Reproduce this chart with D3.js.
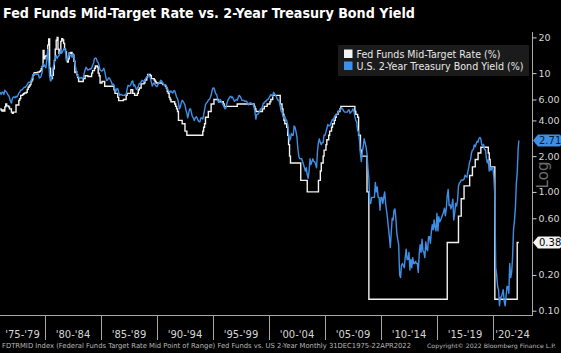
<!DOCTYPE html>
<html>
<head>
<meta charset="utf-8">
<script src="https://cdn.jsdelivr.net/npm/d3@7"></script>
<style>
  body { margin: 0; background: #000; }
  svg { display: block; font-family: "DejaVu Sans", "Liberation Sans", sans-serif; }
</style>
</head>
<body>
<div id="chart"></div>
<script>
// 2-year Treasury yield, monthly, Dec 1975 .. Apr 2022 (last is 22 Apr)
const twoYearYield = [
  6.9,
  6.6, 6.9, 6.9, 6.6, 7.2, 7.0, 6.9, 6.6, 6.5, 6.2, 5.8, 5.6,          // 1976
  6.1, 6.3, 6.3, 6.2, 6.4, 6.3, 6.5, 6.8, 6.9, 7.2, 7.2, 7.3,          // 1977
  7.5, 7.6, 7.6, 7.8, 8.0, 8.3, 8.4, 8.3, 8.6, 9.0, 9.6, 9.8,          // 1978
  9.9, 9.8, 9.8, 9.8, 9.8, 9.1, 9.2, 9.5, 10.2, 12.0, 11.8, 11.4,      // 1979
  11.1, 13.0, 15.8, 12.4, 9.4, 8.6, 8.8, 10.3, 11.4, 12.0, 13.3, 14.1, // 1980
  13.3, 13.8, 14.0, 14.9, 15.8, 14.7, 15.3, 16.0, 16.1, 15.5, 12.7, 13.0, // 1981
  14.0, 14.8, 14.0, 14.1, 13.6, 14.5, 13.9, 12.1, 11.1, 9.9, 9.4, 9.3, // 1982
  9.0, 9.1, 9.2, 9.0, 9.1, 9.9, 10.6, 11.2, 10.9, 10.6, 10.7, 10.9,    // 1983
  10.8, 11.0, 11.6, 12.1, 13.2, 13.4, 13.3, 12.5, 12.3, 11.6, 10.6, 10.5, // 1984
  10.4, 10.6, 11.0, 10.4, 9.4, 8.7, 8.7, 9.1, 9.1, 8.8, 8.5, 8.0,      // 1985
  8.1, 7.9, 7.3, 7.0, 7.4, 7.4, 6.9, 6.5, 6.6, 6.6, 6.5, 6.5,          // 1986
  6.5, 6.6, 6.6, 7.3, 7.9, 7.8, 7.8, 8.0, 8.5, 8.6, 7.8, 8.0,          // 1987
  7.6, 7.3, 7.5, 7.7, 8.2, 8.2, 8.4, 8.7, 8.6, 8.5, 8.7, 9.1,          // 1988
  9.2, 9.4, 9.7, 9.5, 9.0, 8.4, 7.8, 8.1, 8.3, 8.0, 7.8, 7.7,          // 1989
  8.0, 8.2, 8.4, 8.7, 8.6, 8.3, 8.0, 8.0, 8.0, 7.8, 7.5, 7.2,          // 1990
  7.0, 6.9, 7.1, 6.9, 6.8, 7.1, 7.1, 6.7, 6.3, 6.1, 5.7, 5.0,          // 1991
  5.2, 5.6, 5.9, 5.8, 5.6, 5.4, 4.9, 4.6, 4.2, 4.6, 5.0, 5.0,          // 1992
  4.6, 4.3, 4.2, 4.0, 4.2, 4.3, 4.2, 4.0, 3.9, 3.9, 4.2, 4.2,          // 1993
  4.1, 4.4, 4.9, 5.4, 5.6, 5.7, 5.9, 6.0, 6.2, 6.5, 7.1, 7.5,          // 1994
  7.5, 7.1, 6.7, 6.6, 6.1, 5.7, 5.8, 6.0, 5.8, 5.6, 5.4, 5.2,          // 1995
  5.0, 5.1, 5.6, 5.9, 6.1, 6.3, 6.4, 6.2, 6.3, 6.0, 5.8, 5.9,          // 1996
  6.0, 5.9, 6.2, 6.5, 6.4, 6.2, 5.9, 5.9, 5.9, 5.8, 5.8, 5.8,          // 1997
  5.6, 5.4, 5.6, 5.6, 5.6, 5.5, 5.5, 5.2, 4.7, 4.1, 4.5, 4.5,          // 1998
  4.6, 4.8, 5.0, 5.0, 5.2, 5.6, 5.6, 5.8, 5.8, 6.0, 6.0, 6.2,          // 1999
  6.4, 6.6, 6.5, 6.4, 6.9, 6.7, 6.5, 6.3, 6.0, 5.9, 5.8, 5.3,          // 2000
  4.8, 4.7, 4.3, 4.2, 4.3, 4.1, 4.0, 3.7, 3.1, 2.7, 2.8, 3.1,          // 2001
  3.0, 3.0, 3.6, 3.5, 3.2, 2.9, 2.3, 2.0, 1.9, 1.9, 1.9, 1.8,          // 2002
  1.7, 1.6, 1.5, 1.6, 1.4, 1.3, 1.5, 1.9, 1.7, 1.8, 1.9, 1.8,          // 2003
  1.8, 1.7, 1.6, 2.2, 2.6, 2.8, 2.6, 2.5, 2.6, 2.6, 3.0, 3.0,          // 2004
  3.2, 3.4, 3.7, 3.6, 3.6, 3.7, 3.9, 4.1, 4.0, 4.3, 4.4, 4.4,          // 2005
  4.5, 4.7, 4.8, 4.9, 5.0, 5.1, 5.0, 4.8, 4.7, 4.7, 4.7, 4.7,          // 2006
  4.9, 4.9, 4.6, 4.7, 4.8, 5.0, 4.8, 4.3, 4.0, 3.9, 3.3, 3.2,          // 2007
  2.7, 2.1, 1.8, 2.2, 2.4, 2.8, 2.6, 2.4, 2.1, 1.6, 1.3, 0.8,          // 2008
  0.8, 0.9, 0.9, 0.9, 0.9, 1.2, 1.0, 1.1, 0.9, 0.9, 0.7, 0.9,          // 2009
  0.9, 0.8, 0.9, 1.0, 0.8, 0.7, 0.6, 0.5, 0.42, 0.34, 0.45, 0.6,       // 2010
  0.58, 0.7, 0.72, 0.6, 0.45, 0.4, 0.36, 0.2, 0.19, 0.24, 0.25, 0.24,  // 2011
  0.23, 0.28, 0.33, 0.27, 0.27, 0.31, 0.22, 0.27, 0.23, 0.28, 0.25, 0.25, // 2012
  0.26, 0.25, 0.25, 0.21, 0.3, 0.36, 0.31, 0.4, 0.32, 0.31, 0.28, 0.38, // 2013
  0.33, 0.32, 0.42, 0.42, 0.37, 0.46, 0.53, 0.48, 0.58, 0.5, 0.47, 0.66, // 2014
  0.47, 0.62, 0.56, 0.58, 0.61, 0.64, 0.67, 0.73, 0.63, 0.72, 0.93, 1.05, // 2015
  0.77, 0.78, 0.72, 0.77, 0.87, 0.58, 0.66, 0.8, 0.76, 0.84, 1.11, 1.19, // 2016
  1.21, 1.26, 1.25, 1.26, 1.28, 1.38, 1.35, 1.33, 1.47, 1.6, 1.78, 1.88, // 2017
  2.14, 2.25, 2.27, 2.49, 2.4, 2.53, 2.67, 2.63, 2.82, 2.87, 2.8, 2.49, // 2018
  2.45, 2.51, 2.27, 2.27, 1.92, 1.76, 1.87, 1.5, 1.62, 1.52, 1.61, 1.57, // 2019
  1.31, 0.91, 0.23, 0.2, 0.16, 0.15, 0.11, 0.13, 0.13, 0.14, 0.15, 0.12, // 2020
  0.11, 0.13, 0.16, 0.16, 0.14, 0.25, 0.19, 0.21, 0.28, 0.48, 0.57, 0.73, // 2021
  1.18, 1.44, 2.28, 2.71                                               // 2022
];

// Fed funds, monthly readings Dec 1975 .. Dec 1982
const fedEarly = [
  5.0,
  4.9, 4.8, 4.9, 4.8, 5.2, 5.5, 5.3, 5.3, 5.2, 5.0, 5.0, 4.7,          // 1976
  4.6, 4.7, 4.7, 4.7, 5.4, 5.4, 5.4, 5.9, 6.1, 6.5, 6.5, 6.6,          // 1977
  6.7, 6.8, 6.8, 6.9, 7.3, 7.6, 7.8, 8.0, 8.5, 8.8, 9.6, 10.0,         // 1978
  10.1, 10.1, 10.1, 10.2, 10.2, 10.3, 10.5, 10.9, 11.4, 15.5, 13.2, 13.8, // 1979
  14.0, 14.1, 17.2, 19.4, 11.0, 9.5, 9.0, 9.6, 10.9, 12.8, 15.9, 18.9, // 1980
  20.0, 15.9, 14.7, 15.7, 18.5, 19.5, 19.0, 17.8, 15.9, 15.1, 13.3, 12.4, // 1981
  13.2, 14.8, 14.7, 14.9, 14.5, 14.2, 12.6, 10.1, 10.3, 9.7, 9.2, 8.95 // 1982
];

// Fed funds mid-target changes from 1983 on
const fedChangeDates = [
  "1983-01", "1983-06", "1983-08", "1983-11",
  "1984-03", "1984-04", "1984-06", "1984-07", "1984-09", "1984-10", "1984-11", "1984-12",
  "1985-02", "1985-05", "1986-03", "1986-04", "1986-07", "1986-08",
  "1987-01", "1987-04", "1987-05", "1987-09", "1987-11",
  "1988-01", "1988-04", "1988-05", "1988-06", "1988-08", "1988-11", "1988-12",
  "1989-02", "1989-03", "1989-06", "1989-07", "1989-10", "1989-11", "1989-12",
  "1990-07", "1990-10", "1990-11", "1990-12",
  "1991-01", "1991-02", "1991-03", "1991-04", "1991-08", "1991-09", "1991-10", "1991-11", "1991-12",
  "1992-04", "1992-07", "1992-09",
  "1994-02", "1994-03", "1994-04", "1994-05", "1994-08", "1994-11",
  "1995-02", "1995-07", "1995-12", "1996-01", "1997-03",
  "1998-09", "1998-10", "1998-11", "1999-06", "1999-08", "1999-11",
  "2000-02", "2000-03", "2000-05",
  "2001-01", "2001-03", "2001-04", "2001-05", "2001-06", "2001-08", "2001-09", "2001-10", "2001-11", "2001-12",
  "2002-11", "2003-06",
  "2004-06", "2004-08", "2004-09", "2004-11", "2004-12",
  "2005-02", "2005-03", "2005-05", "2005-06", "2005-08", "2005-09", "2005-11", "2005-12",
  "2006-01", "2006-03", "2006-05", "2006-06",
  "2007-09", "2007-10", "2007-12",
  "2008-01", "2008-03", "2008-04", "2008-10", "2008-12",
  "2015-12", "2016-12", "2017-03", "2017-06", "2017-12",
  "2018-03", "2018-06", "2018-09", "2018-12",
  "2019-08", "2019-09", "2019-10", "2020-03", "2022-03"
];
const fedChangeRates = [
  8.5, 9.0, 9.5, 9.375,
  10.0, 10.5, 11.0, 11.5, 11.25, 10.0, 9.5, 8.25,
  8.5, 7.75, 7.25, 6.75, 6.25, 5.875,
  6.0, 6.5, 6.75, 7.25, 6.75,
  6.5, 6.75, 7.25, 7.5, 8.125, 8.25, 8.75,
  9.25, 9.75, 9.5, 9.0, 8.75, 8.5, 8.25,
  8.0, 7.75, 7.5, 7.0,
  6.75, 6.25, 6.0, 5.75, 5.5, 5.25, 5.0, 4.75, 4.0,
  3.75, 3.25, 3.0,
  3.25, 3.5, 3.75, 4.25, 4.75, 5.5,
  6.0, 5.75, 5.5, 5.25, 5.5,
  5.25, 5.0, 4.75, 5.0, 5.25, 5.5,
  5.75, 6.0, 6.5,
  5.5, 5.0, 4.5, 4.0, 3.75, 3.5, 3.0, 2.5, 2.0, 1.75,
  1.25, 1.0,
  1.25, 1.5, 1.75, 2.0, 2.25,
  2.5, 2.75, 3.0, 3.25, 3.5, 3.75, 4.0, 4.25,
  4.5, 4.75, 5.0, 5.25,
  4.75, 4.5, 4.25,
  3.0, 2.25, 2.0, 1.0, 0.125,
  0.375, 0.625, 0.875, 1.125, 1.375,
  1.625, 1.875, 2.125, 2.375,
  2.125, 1.875, 1.625, 0.125, 0.375
];

const periodStarts = [1975, 1980, 1985, 1990, 1995, 2000, 2005, 2010, 2015, 2020];
const periodLabels = ["'75-'79", "'80-'84", "'85-'89", "'90-'94", "'95-'99",
                      "'00-'04", "'05-'09", "'10-'14", "'15-'19", "'20-'24"];
// 0.40 sits under the 0.38 tag in the original, so it is left out
const yTicks = [0.1, 0.2, 0.6, 1, 2, 4, 6, 10, 20];

const lastDate = new Date(2022, 3, 22);

// build series
const monthEnd = i => new Date(1976, i, 0);   // i=0 -> 31 Dec 1975
const blueData = twoYearYield.map((v, i) => ({
  date: i === twoYearYield.length - 1 ? lastDate : monthEnd(i), value: v
}));
const parseMonth = d3.timeParse("%Y-%m");
const whiteData = fedEarly.map((v, i) => ({date: monthEnd(i), value: v}))
  .concat(fedChangeDates.map((d, i) => ({date: parseMonth(d), value: fedChangeRates[i]})));
whiteData.push({date: lastDate, value: fedChangeRates[fedChangeRates.length - 1]});

const width = 561, height = 353;
const plot = {left: 0, right: 532, top: 32, bottom: 315};

const svg = d3.select("#chart").append("svg")
  .attr("width", width)
  .attr("height", height);

svg.append("rect").attr("width", width).attr("height", height).attr("fill", "#000");

const x = d3.scaleTime()
  .domain([new Date(1980, 0, 1), new Date(2020, 0, 1)])
  .range([45, 493]);
const y = d3.scaleLog()
  .domain([0.092, 22.2])
  .range([plot.bottom, plot.top]);

// title
svg.append("text")
  .attr("x", 3)
  .attr("y", 18)
  .attr("fill", "#fff")
  .style("font-size", "13.5px")
  .style("font-weight", "bold")
  .attr("textLength", 412)
  .attr("lengthAdjust", "spacingAndGlyphs")
  .text("Fed Funds Mid-Target Rate vs. 2-Year Treasury Bond Yield");

svg.append("defs").append("clipPath").attr("id", "clip")
  .append("rect")
  .attr("x", plot.left).attr("y", plot.top)
  .attr("width", plot.right - plot.left).attr("height", plot.bottom - plot.top);

const line = d3.line()
  .x(d => x(d.date))
  .y(d => y(d.value));

const lines = svg.append("g").attr("clip-path", "url(#clip)");

lines.append("path")
  .datum(whiteData)
  .attr("fill", "none")
  .attr("stroke", "#f2f2f2")
  .attr("stroke-width", 1.4)
  .attr("d", line.curve(d3.curveStepAfter));

lines.append("path")
  .datum(blueData)
  .attr("fill", "none")
  .attr("stroke", "#3f8fe6")
  .attr("stroke-width", 1.4)
  .attr("stroke-linejoin", "round")
  .attr("d", line.curve(d3.curveLinear));

// axes frame
const axisColor = "#a8a8a8";
svg.append("line")
  .attr("x1", plot.left).attr("x2", plot.right)
  .attr("y1", plot.bottom + 0.5).attr("y2", plot.bottom + 0.5)
  .attr("stroke", axisColor);
svg.append("line")
  .attr("x1", plot.right + 0.5).attr("x2", plot.right + 0.5)
  .attr("y1", plot.top).attr("y2", plot.bottom + 1)
  .attr("stroke", axisColor);

// x axis: period separators and centred labels
const xAxis = svg.append("g");
periodStarts.forEach((yr, i) => {
  const x0 = x(new Date(yr, 0, 1));
  const x1 = x(new Date(yr + 5, 0, 1));
  if (i > 0) {
    xAxis.append("line")
      .attr("x1", Math.round(x0) + 0.5).attr("x2", Math.round(x0) + 0.5)
      .attr("y1", plot.bottom).attr("y2", plot.bottom + 25)
      .attr("stroke", axisColor);
  }
  const a = Math.max(plot.left, x0), b = Math.min(plot.right, x1);
  xAxis.append("text")
    .attr("x", (a + b) / 2)
    .attr("y", 337.5)
    .attr("text-anchor", "middle")
    .attr("fill", "#d6d6d6")
    .style("font-size", "10px")
    .text(periodLabels[i]);
});

// y axis on the right
const yAxis = svg.append("g")
  .attr("transform", `translate(${plot.right + 0.5},0)`)
  .call(d3.axisRight(y)
    .tickValues(yTicks)
    .tickSize(4)
    .tickPadding(2)
    .tickFormat(v => v >= 10 ? d3.format("d")(v) : d3.format(".2f")(v)));
yAxis.select(".domain").remove();
yAxis.selectAll(".tick line").attr("stroke", "#d0d0d0");
yAxis.selectAll(".tick text")
  .attr("fill", "#d6d6d6")
  .style("font-size", "9.5px")
  .style("font-family", "\"DejaVu Sans\", sans-serif");

// "Log" marker
svg.append("text")
  .attr("transform", `translate(548,175) rotate(-90)`)
  .attr("text-anchor", "middle")
  .attr("fill", "#6e6e6e")
  .style("font-size", "15px")
  .text("Log");

// last value tags
function lastTag(value, fill, textColor) {
  const yc = y(value);
  const h = 12, x0 = plot.right + 1;
  svg.append("path")
    .attr("d", `M${x0},${yc} L${x0 + 5},${yc - h / 2} L${width - 2},${yc - h / 2}
      Q${width},${yc - h / 2} ${width},${yc - h / 2 + 2} L${width},${yc + h / 2 - 2}
      Q${width},${yc + h / 2} ${width - 2},${yc + h / 2} L${x0 + 5},${yc + h / 2} Z`)
    .attr("fill", fill);
  svg.append("text")
    .attr("x", 539)
    .attr("y", yc + 3.5)
    .attr("fill", textColor)
    .style("font-size", "10px")
    .text(d3.format(".2f")(value));
}
lastTag(twoYearYield[twoYearYield.length - 1], "#3f8fe6", "#0a1a30");
lastTag(fedChangeRates[fedChangeRates.length - 1], "#f4f4f4", "#000");

// legend
const legend = svg.append("g");
legend.append("rect")
  .attr("x", 338).attr("y", 45)
  .attr("width", 191).attr("height", 31)
  .attr("fill", "#1b1b1b");
const legendItems = [
  {label: "Fed Funds Mid-Target Rate (%)", color: "#f4f4f4", w: 144},
  {label: "U.S. 2-Year Treasury Bond Yield (%)", color: "#3f8fe6", w: 167}
];
legendItems.forEach((d, i) => {
  legend.append("rect")
    .attr("x", 344).attr("y", 49.5 + i * 12)
    .attr("width", 8.5).attr("height", 8.5)
    .attr("fill", d.color);
  legend.append("text")
    .attr("x", 356.5).attr("y", 57.5 + i * 12)
    .attr("fill", "#e8e8e8")
    .style("font-size", "10px")
    .attr("textLength", d.w)
    .attr("lengthAdjust", "spacingAndGlyphs")
    .text(d.label);
});

// footnotes
svg.append("text")
  .attr("x", 2).attr("y", 348)
  .attr("fill", "#b8b8b8")
  .style("font-size", "7px")
  .attr("textLength", 409)
  .attr("lengthAdjust", "spacingAndGlyphs")
  .text("FDTRMID Index (Federal Funds Target Rate Mid Point of Range) Fed Funds vs. US 2-Year  Monthly 31DEC1975-22APR2022");
svg.append("text")
  .attr("x", 556).attr("y", 348)
  .attr("text-anchor", "end")
  .attr("fill", "#b8b8b8")
  .style("font-size", "6px")
  .attr("textLength", 129)
  .attr("lengthAdjust", "spacingAndGlyphs")
  .text("Copyright\u00a9 2022 Bloomberg Finance L.P.");
</script>
</body>
</html>
